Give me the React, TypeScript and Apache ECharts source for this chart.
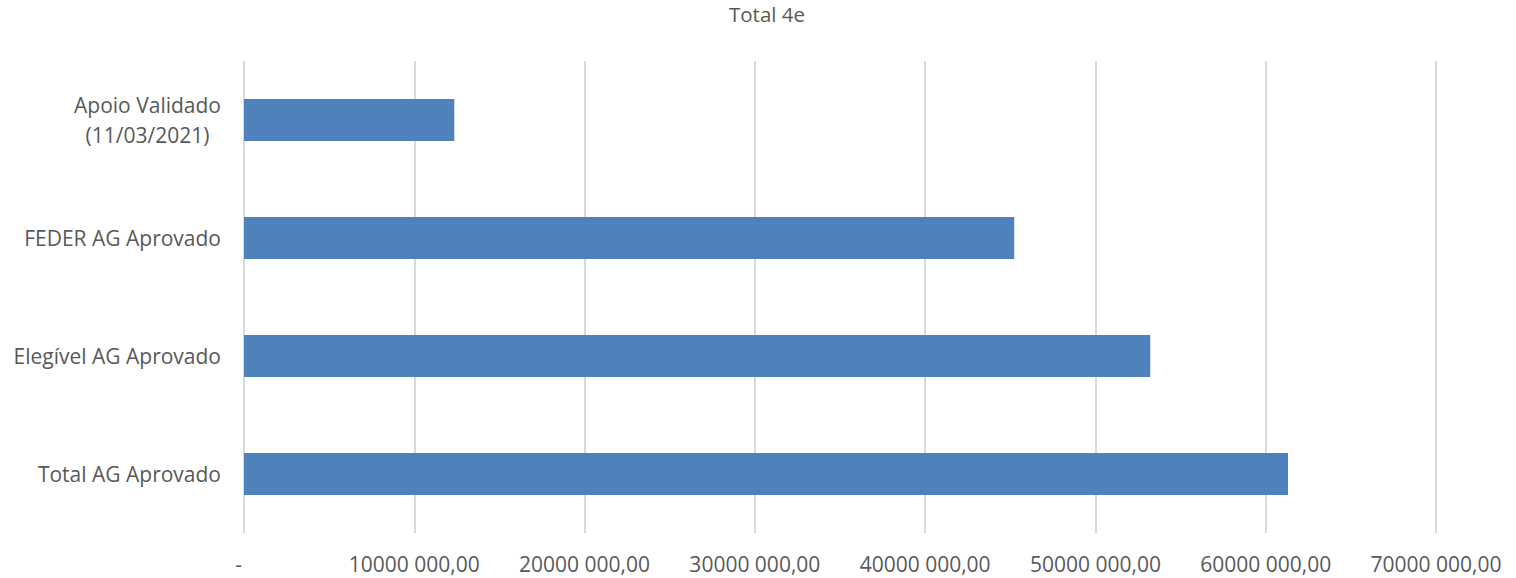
import React, { useEffect, useRef } from "react";
import * as echarts from "echarts";

const title = "Total 4e";
const categories = ["Apoio Validado\n(11/03/2021)", "FEDER AG Aprovado", "Elegível AG Aprovado", "Total AG Aprovado"];
const values = [12350000, 45230000, 53220000, 61310000];
const axisMin = 0;
const axisMax = 70000000;
const axisInterval = 10000000;

function fmt(v: number): string {
  if (v === 0) return "-\u00a0\u00a0";
  const th = Math.floor(v / 1000);
  const rest = String(Math.round(v % 1000)).padStart(3, "0");
  return `${th} ${rest},00`;
}

export default function App() {
  const ref = useRef<HTMLDivElement>(null);
  useEffect(() => {
    if (!ref.current) return;
    const chart = echarts.init(ref.current, undefined, { renderer: "svg" });
    const font = "'Open Sans', sans-serif";
    chart.setOption({
      animation: false,
      backgroundColor: "#ffffff",
      title: {
        text: title,
        left: 724,
        top: -2,
        textStyle: { color: "#595959", fontSize: 20.5, fontWeight: "normal", fontFamily: font },
      },
      grid: { left: 244, right: 80, top: 61, bottom: 45, containLabel: false },
      xAxis: {
        type: "value",
        min: axisMin,
        max: axisMax,
        interval: axisInterval,
        axisLine: { show: false },
        axisTick: { show: false },
        splitLine: { show: true, lineStyle: { color: "#D9D9D9", width: 2 } },
        axisLabel: {
          color: "#595959",
          fontSize: 21,
          fontFamily: font,
          margin: 20,
          formatter: (v: number) => fmt(v),
        },
      },
      yAxis: {
        type: "category",
        data: categories,
        inverse: true,
        axisLine: { show: false },
        axisTick: { show: false },
        splitLine: { show: false },
        axisLabel: {
          color: "#595959",
          fontSize: 21,
          fontFamily: font,
          margin: 23,
          lineHeight: 30,
          formatter: (v: string) => {
            if (v.indexOf("\n") >= 0) {
              return v.split("\n").map((s) => `{c|${s}}`).join("\n");
            }
            return v;
          },
          rich: {
            c: { align: "center", color: "#595959", fontSize: 21, fontFamily: font, lineHeight: 30 },
          },
        },
      },
      series: [
        {
          type: "bar",
          data: values,
          barWidth: 42,
          itemStyle: { color: "#4F81BD" },
        },
      ],
    });
    return () => chart.dispose();
  }, []);
  return <div ref={ref} style={{ position: "fixed", left: 0, top: 0, width: 1516, height: 578 }} />;
}
